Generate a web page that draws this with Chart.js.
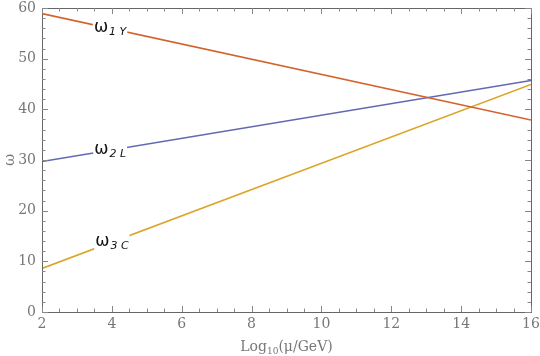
<!DOCTYPE html>
<html><head><meta charset="utf-8">
<script src="https://cdn.jsdelivr.net/npm/chart.js@4"></script>
<style>html,body{margin:0;padding:0;background:#fff}#wrap{width:540px;height:356px}</style>
</head><body><div id="wrap"><canvas id="c" width="540" height="356"></canvas></div>
<script>
const xValues = [2, 16];
const omega1Y = [58.9, 37.9];
const omega2L = [29.7, 45.7];
const omega3C = [8.6, 44.9];
const seriesNames = [["ω", "1 Y"], ["ω", "2 L"], ["ω", "3 C"]];
const xTicks = [2, 4, 6, 8, 10, 12, 14, 16];
const yTicks = [0, 10, 20, 30, 40, 50, 60];

const colors = ["#D4622C", "#6268B2", "#DCA52A"];
const labelAtX = [3.95, 3.95, 4.0];
const axisGray = "#777";

function pts(ys){ return xValues.map((x,i)=>({x:x,y:ys[i]})); }

const framePlugin = {
  id: 'frame',
  afterDatasetsDraw(chart){
    const ctx = chart.ctx, a = chart.chartArea;
    const xs = chart.scales.x, ys = chart.scales.y;
    ctx.save();
    chart.data.datasets.forEach((ds, i) => {
      const lx = labelAtX[i];
      const p = ds.data;
      const t = (lx - p[0].x) / (p[1].x - p[0].x);
      const ly = p[0].y + t * (p[1].y - p[0].y);
      const px = xs.getPixelForValue(lx), py = ys.getPixelForValue(ly);
      const [main, sub] = seriesNames[i];
      ctx.font = '17px "DejaVu Sans"';
      const w1 = ctx.measureText(main).width;
      ctx.font = 'italic 11px "DejaVu Sans"';
      const w2 = ctx.measureText(sub).width;
      const W = w1 + w2 + 1;
      ctx.fillStyle = '#fff';
      ctx.fillRect(px - W/2 - 1, py - 8, W + 2, 16);
      ctx.fillStyle = '#111';
      ctx.textBaseline = 'alphabetic';
      ctx.textAlign = 'left';
      ctx.font = '17px "DejaVu Sans"';
      ctx.fillText(main, px - W/2, py + 4);
      ctx.font = 'italic 11px "DejaVu Sans"';
      ctx.fillText(sub, px - W/2 + w1 + 1, py + 7);
    });
    ctx.strokeStyle = '#666';
    ctx.lineWidth = 1;
    ctx.strokeRect(Math.round(a.left)+0.5, Math.round(a.top)+0.5, Math.round(a.right-a.left), Math.round(a.bottom-a.top));
    ctx.strokeStyle = '#888';
    ctx.beginPath();
    for (let v = 2; v <= 16.001; v += 0.5) {
      const major = Math.abs(v - Math.round(v/2)*2) < 1e-6;
      const L = major ? 6 : 3.5;
      const x = Math.round(xs.getPixelForValue(v)) + 0.5;
      ctx.moveTo(x, a.bottom); ctx.lineTo(x, a.bottom - L);
      ctx.moveTo(x, a.top); ctx.lineTo(x, a.top + L);
    }
    for (let v = 0; v <= 60.001; v += 2) {
      const major = v % 10 === 0;
      const L = major ? 6 : 3.5;
      const y = Math.round(ys.getPixelForValue(v)) + 0.5;
      ctx.moveTo(a.left, y); ctx.lineTo(a.left + L, y);
      ctx.moveTo(a.right, y); ctx.lineTo(a.right - L, y);
    }
    ctx.stroke();
    // tick labels
    ctx.fillStyle = axisGray;
    ctx.font = '14px "DejaVu Serif"';
    ctx.textAlign = 'center'; ctx.textBaseline = 'top';
    xTicks.forEach(v => ctx.fillText(String(v), xs.getPixelForValue(v), a.bottom + 5));
    ctx.textAlign = 'right'; ctx.textBaseline = 'middle';
    yTicks.forEach(v => ctx.fillText(String(v), a.left - 6, ys.getPixelForValue(v)));
    // titles
    ctx.textBaseline = 'alphabetic';
    ctx.textAlign = 'left';
    ctx.font = '14px "DejaVu Serif"';
    const t1 = 'Log', t2 = '10', t3 = '(μ/GeV)';
    const w1 = ctx.measureText(t1).width, w3 = ctx.measureText(t3).width;
    ctx.font = '9px "DejaVu Serif"';
    const w2 = ctx.measureText(t2).width;
    const total = w1 + w2 + w3;
    let x0 = (a.left + a.right)/2 - total/2;
    const by = 351;
    ctx.font = '14px "DejaVu Serif"'; ctx.fillText(t1, x0, by);
    ctx.font = '9px "DejaVu Serif"'; ctx.fillText(t2, x0 + w1, by + 3);
    ctx.font = '14px "DejaVu Serif"'; ctx.fillText(t3, x0 + w1 + w2, by);
    ctx.save();
    ctx.translate(14, (a.top + a.bottom)/2);
    ctx.rotate(-Math.PI/2);
    ctx.textAlign = 'center';
    ctx.font = '15px "DejaVu Serif"';
    ctx.fillText('ω', 0, 0);
    ctx.restore();
    ctx.restore();
  }
};

new Chart(document.getElementById('c'), {
  type: 'line',
  data: {
    datasets: [
      {data: pts(omega1Y), borderColor: colors[0]},
      {data: pts(omega2L), borderColor: colors[1]},
      {data: pts(omega3C), borderColor: colors[2]}
    ].map(d => Object.assign(d, {borderWidth: 1.6, pointRadius: 0, fill: false, tension: 0}))
  },
  options: {
    responsive: false,
    animation: false,
    layout: {padding: {left: 42, right: 9, top: 8, bottom: 44}},
    plugins: {legend: {display: false}, tooltip: {enabled: false}},
    scales: {
      x: {
        type: 'linear', min: 2, max: 16,
        afterBuildTicks(s){ s.ticks = xTicks.map(v => ({value: v})); },
        afterFit(s){ s.height = 0; },
        grid: {display: false, drawTicks: false},
        border: {display: false},
        ticks: {display: false}
      },
      y: {
        type: 'linear', min: 0, max: 60,
        afterBuildTicks(s){ s.ticks = yTicks.map(v => ({value: v})); },
        afterFit(s){ s.width = 0; },
        grid: {display: false, drawTicks: false},
        border: {display: false},
        ticks: {display: false}
      }
    }
  },
  plugins: [framePlugin]
});
</script></body></html>
